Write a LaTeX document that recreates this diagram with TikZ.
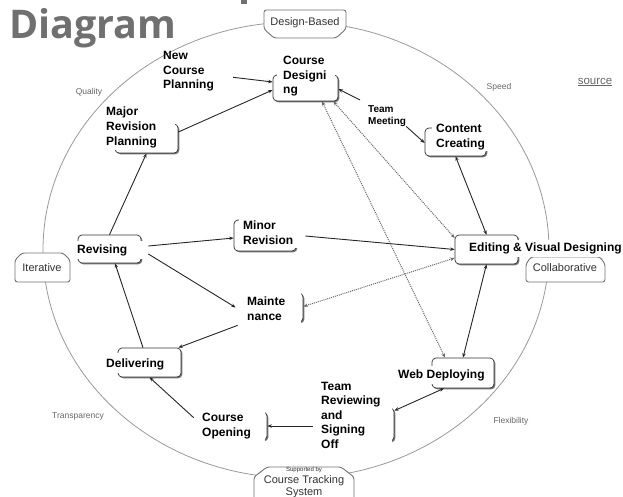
\documentclass[tikz,border=0pt]{standalone}
\usepackage{fontspec}
\setmainfont{Liberation Sans}
\newfontfamily\titlefont{Open Sans}
\usetikzlibrary{shadows,calc,fit,arrows.meta}

% helpers: a concept frame fitted to two corners, and a white patch behind a label
\newcommand\cmapbox[3]{\node[conceptbox, fit={(#2) (#3)}] (#1) {};}
\newcommand\whitepatch[2]{\fill[white] (#1) rectangle (#2);}

\tikzset{
  conceptbox/.style={draw=black!80, line width=0.7pt, rounded corners=4pt, fill=white,
    inner sep=0pt, drop shadow={shadow xshift=1.3pt, shadow yshift=-1.3pt, fill=black!55, opacity=1}},
  concepttext/.style={inner sep=0pt, anchor=north west, align=left,
    font=\fontsize{12}{14.7}\selectfont\bfseries},
  phrasetext/.style={inner sep=0pt, anchor=north west, align=left,
    font=\fontsize{10}{12}\selectfont\bfseries},
  tagline/.style={draw=black!55, line width=0.9pt, fill=white, rounded corners=2.5pt},
  tagtext/.style={inner sep=0pt, text=black!80, font=\fontsize{11}{12}\selectfont},
  ringtext/.style={inner sep=0pt, text=black!60, font=\fontsize{8.5}{10}\selectfont},
  ringline/.style={draw=black!40, line width=0.8pt},
  link/.style={draw=black!85, line width=0.9pt},
  linkto/.style={link, -{Stealth[length=4.5pt,width=3.5pt]}},
  linkboth/.style={link, {Stealth[length=4.5pt,width=3.5pt]}-{Stealth[length=4.5pt,width=3.5pt]}},
  dottedboth/.style={draw=black!60, line width=1pt, densely dotted,
    {Stealth[length=4.5pt,width=3.5pt]}-{Stealth[length=4.5pt,width=3.5pt]}},
}

\begin{document}
\begin{tikzpicture}[x=1pt,y=-1pt]
\useasboundingbox (0,0) rectangle (623,497);

% outer ring of qualities
\draw[ringline] (296,250) ellipse [x radius=253pt, y radius=228pt];
\node[ringtext] (quality) at (89,92) {Quality};
\node[ringtext] (speed) at (499,87) {Speed};
\node[ringtext] (transparency) at (78,416) {Transparency};
\node[ringtext] (flexibility) at (511,421) {Flexibility};

% heading and link
\node[anchor=base west, inner sep=0pt, text=black!56,
  font={\fontsize{39.5}{44}\selectfont\titlefont\bfseries}] (heading) at (9,39) {Diagram};
\fill[black!56] (241,0) rectangle (247,4);
\node[inner sep=0pt, text=black!60, font=\fontsize{11.5}{13}\selectfont] (source) at (595,82) {\underline{source}};

% tags sitting on the ring
\draw[tagline] (264,29) -- (264,10) -- (346,10) -- (346,29) -- (336,38) -- (274,38) -- cycle;
\node[tagtext] (designbased) at (305,23) {Design-Based};
\draw[tagline] (15,260) -- (22,253) -- (63,253) -- (70,260) -- (70,282) -- (15,282) -- cycle;
\node[tagtext] (iterative) at (42,268) {Iterative};
\draw[tagline] (526,264) -- (531,257) -- (600,257) -- (605,264) -- (605,282) -- (526,282) -- cycle;
\node[tagtext] (collaborative) at (565,268) {Collaborative};
\draw[tagline] (254,505) -- (254,477) -- (267,467) -- (341,467) -- (354,477) -- (354,505);
\node[inner sep=0pt, text=black!80, font=\fontsize{6}{6}\selectfont] (supported) at (304,470) {Supported by};
\node[tagtext, align=center] (tracking) at (304,487) {Course Tracking\\System};

% concept frames
\cmapbox{cdbox}{273,75}{338,101}
\cmapbox{mrpbox}{115,124}{178,153}
\cmapbox{ccbox}{425,128}{486,156}
\cmapbox{evbox}{455,235}{518,264}
\cmapbox{mrbox}{234,220}{296,251}
\cmapbox{rvbox}{78,235}{141,263}
\cmapbox{mtbox}{236,293}{303,322}
\cmapbox{dvbox}{118,348}{181,377}
\cmapbox{cobox}{194,412}{267,440}
\cmapbox{trbox}{318,408}{394,441}
\cmapbox{wdbox}{432,358}{494,388}

% label backgrounds
\whitepatch{277,52}{335,99}
\whitepatch{103,104}{175,150}
\whitepatch{432,118}{492,151}
\whitepatch{466,240}{623,257}
\whitepatch{239,215}{302,248}
\whitepatch{74,241}{148,259}
\whitepatch{232,290}{301,325}
\whitepatch{103,353}{168,373}
\whitepatch{192,408}{265,444}
\whitepatch{316,378}{392,452}
\whitepatch{395,366}{489,384}

% concept labels
\node[concepttext] (cd) at (283,56) {Course\\Designi\\ng};
\node[concepttext] (nc) at (163,51) {New\\Course\\Planning};
\node[concepttext] (mrp) at (106,107) {Major\\Revision\\Planning};
\node[phrasetext] (tm) at (368,105) {Team\\Meeting};
\node[concepttext] (cc) at (436,124) {Content\\Creating};
\node[concepttext] (ev) at (469,243) {Editing \& Visual Designing};
\node[concepttext] (mr) at (243,221) {Minor\\Revision};
\node[concepttext] (rv) at (77,245) {Revising};
\node[concepttext] (mt) at (247,297) {Mainte\\nance};
\node[concepttext] (dv) at (106,359) {Delivering};
\node[concepttext] (co) at (202,413) {Course\\Opening};
\node[concepttext, font=\fontsize{12}{14.5}\selectfont\bfseries] (tr) at (321,382) {Team\\Reviewing\\and\\Signing\\Off};
\node[concepttext] (wd) at (398,370) {Web Deploying};

% connectors
\draw[linkto] ($(nc.east)+(19,6)$) -- ($(cdbox.west)+(0,-6)$);
\draw[linkto] ($(mrpbox.east)+(0,-6.5)$) -- ($(cdbox.west)+(0,2)$);
\draw[linkto] ($(tm.north west)+(-8,-5)$) -- ($(cdbox.east)+(0,1)$);
\draw[linkto] (tm.south east) -- ($(ccbox.west)+(0,1)$);
\draw[linkboth] (ccbox.south) -- (evbox.north);
\draw[linkto] ($(rvbox.east)+(7,-3)$) -- ($(mrbox.west)+(0,2.5)$);
\draw[linkto] ($(mrbox.east)+(9,0.5)$) -- (evbox.west);
\draw[linkto] ($(rvbox.east)+(7,5)$) -- (mtbox.west);
\draw[dottedboth] ($(evbox.west)+(0,8.5)$) -- ($(mtbox.east)+(0,-1)$);
\draw[linkto] ($(mtbox.south west)+(2,3)$) -- ($(dvbox.north east)+(-3,0)$);
\draw[linkto] ($(dvbox.north)+(-6.5,0)$) -- ($(rvbox.south)+(5.5,0)$);
\draw[linkto] (rvbox.north) -- (mrpbox.south);
\draw[linkto] ($(cobox.north west)+(0,6)$) -- (dvbox.south);
\draw[linkto] ($(trbox.west |- cobox.east)+(-5,0)$) -- (cobox.east);
\draw[linkboth] ($(trbox.north east)+(0,3)$) -- ($(wdbox.south)+(-19,0)$);
\draw[linkboth] (evbox.south) -- (wdbox.north);
\draw[dottedboth] ($(cdbox.south)+(16.5,0)$) -- ($(wdbox.north)+(-18,0)$);
\draw[dottedboth] ($(cdbox.south east)+(-5,0)$) -- ($(evbox.west)+(0,-11.5)$);
\end{tikzpicture}
\end{document}
